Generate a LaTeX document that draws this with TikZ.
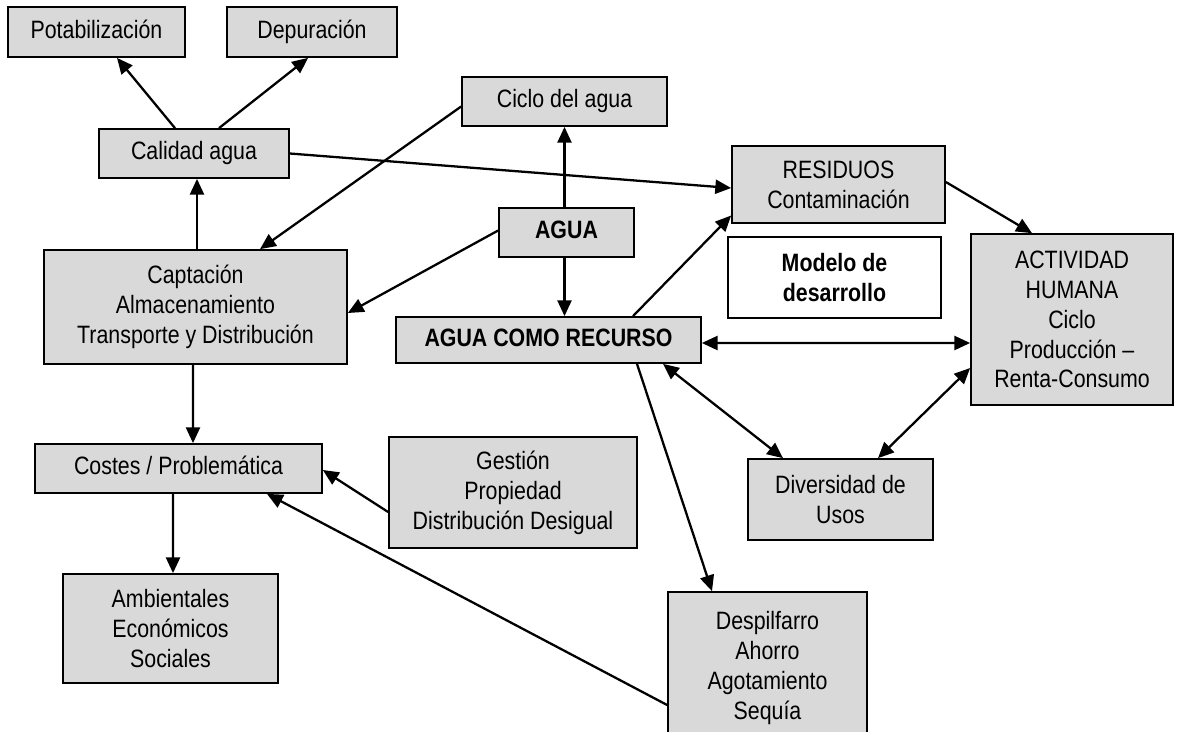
\documentclass[tikz,border=0pt]{standalone}
\usepackage{fontspec}
\setmainfont{Liberation Sans}[FakeStretch=0.85]
\usetikzlibrary{arrows.meta,calc}

\begin{document}
\begin{tikzpicture}[x=0.02cm,y=-0.02cm,
	box/.style={draw=black,fill=black!15,line width=1pt,inner sep=0pt,align=center,
		font=\fontsize{14.3}{17}\selectfont},
	onebox/.style={draw=black,fill=black!15,line width=1pt,inner sep=0pt,
		text height=0.716em,text depth=0pt,font=\fontsize{14.3}{17}\selectfont},
	arr/.style={line width=1.3pt,-{Triangle[length=9pt,width=8pt]}},
	darr/.style={line width=1.3pt,{Triangle[length=9pt,width=8pt]}-{Triangle[length=9pt,width=8pt]}}]
			\useasboundingbox (0,0) rectangle (1177,731);
			\node [onebox,minimum width=3.54cm,minimum height=1cm] (pot) at (96.5,32) {Potabilización};
			\node [onebox,minimum width=3.4cm,minimum height=1cm] (dep) at (312,32) {Depuración};
			\node [onebox,minimum width=3.8cm,minimum height=0.98cm] (cal) at (194,153.5) {Calidad agua};
			\node [onebox,minimum width=4.1cm,minimum height=0.98cm] (cic) at (564.5,101.5) {Ciclo del agua};
			\node [onebox,font=\fontsize{14.3}{17}\selectfont\bfseries,minimum width=2.7cm,minimum height=0.98cm] (agua) at (566.5,232.5) {AGUA};
			\node [box,minimum width=4.26cm,minimum height=1.54cm] (res) at (838.5,184.5) {RESIDUOS\\Contaminación};
			\node [box,font=\fontsize{14.3}{17}\selectfont\bfseries,fill=white,minimum width=4.26cm,minimum height=1.62cm] (mod) at (834.5,277.5) {Modelo de\\desarrollo};
			\node [box,minimum width=4.04cm,minimum height=3.42cm] (act) at (1072,319.5) {ACTIVIDAD\\HUMANA\\Ciclo\\Producción –\\Renta-Consumo};
			\node [box,minimum width=6.06cm,minimum height=2.28cm] (cap) at (195.5,307) {Captación\\Almacenamiento\\Transporte y Distribución};
			\node [onebox,font=\fontsize{14.3}{17}\selectfont\bfseries,minimum width=6.1cm,minimum height=0.92cm] (rec) at (548.5,340) {AGUA COMO RECURSO};
			\node [onebox,minimum width=5.74cm,minimum height=0.98cm] (cos) at (178.5,468.5) {Costes / Problemática};
			\node [box,minimum width=4.96cm,minimum height=2.22cm] (ges) at (513,492.5) {Gestión\\Propiedad\\Distribución Desigual};
			\node [box,minimum width=3.7cm,minimum height=1.62cm] (div) at (840.5,499.5) {Diversidad de\\Usos};
			\node [box,minimum width=3.98cm,minimum height=3.04cm] (des) at (767.5,668) {Despilfarro\\Ahorro\\Agotamiento\\Sequía};
			\node [box,minimum width=4.3cm,minimum height=2.18cm] (amb) at (170.5,628.5) {Ambientales\\Económicos\\Sociales};
			\draw [arr] ($(cal.north)+(-19,0)$) -- ($(pot.south)+(20.5,0)$);
			\draw [arr] ($(cal.north)+(25,0)$) -- ($(dep.south)+(-4,0)$);
			\draw [arr] ($(cal.south |- cap.north)+(3,0)$) -- ($(cal.south)+(3,0)$);
			\draw [arr] ($(cic.west)+(0,5)$) -- ($(cap.north)+(64.5,0)$);
			\draw [arr] ($(agua.west)+(0,-2)$) -- ($(cap.east)+(0,6)$);
			\draw [arr] ($(agua.north)+(-2,0)$) -- (cic.south);
			\draw [arr] ($(agua.south)+(-2,0)$) -- ($(agua.south |- rec.north)+(-2,0)$);
			\draw [arr] (cal.east) -- ($(res.west)+(0,3.5)$);
			\draw [arr] ($(rec.north)+(84.5,0)$) -- ($(res.west)+(0,31)$);
			\draw [arr] ($(res.east)+(0,-2.5)$) -- ($(act.north)+(-40,0)$);
			\draw [darr] ($(rec.east)+(0,3)$) -- ($(act.west)+(0,23.5)$);
			\draw [darr] ($(rec.south)+(114.5,0)$) -- ($(div.north)+(-57.5,0)$);
			\draw [darr] ($(div.north)+(37.5,0)$) -- ($(act.west)+(0,48.5)$);
			\draw [arr] ($(rec.south)+(88.5,0)$) -- ($(des.north)+(-55.5,0)$);
			\draw [arr] ($(des.west)+(0,37)$) -- ($(cos.south)+(88.5,0)$);
			\draw [arr] ($(ges.west)+(0,19.5)$) -- ($(cos.east)+(0,1.5)$);
			\draw [arr] ($(cap.south)+(-2.5,0)$) -- ($(cos.north)+(14.5,0)$);
			\draw [arr] ($(cos.south)+(-5.5,0)$) -- ($(amb.north)+(2.5,0)$);
\end{tikzpicture}
\end{document}
